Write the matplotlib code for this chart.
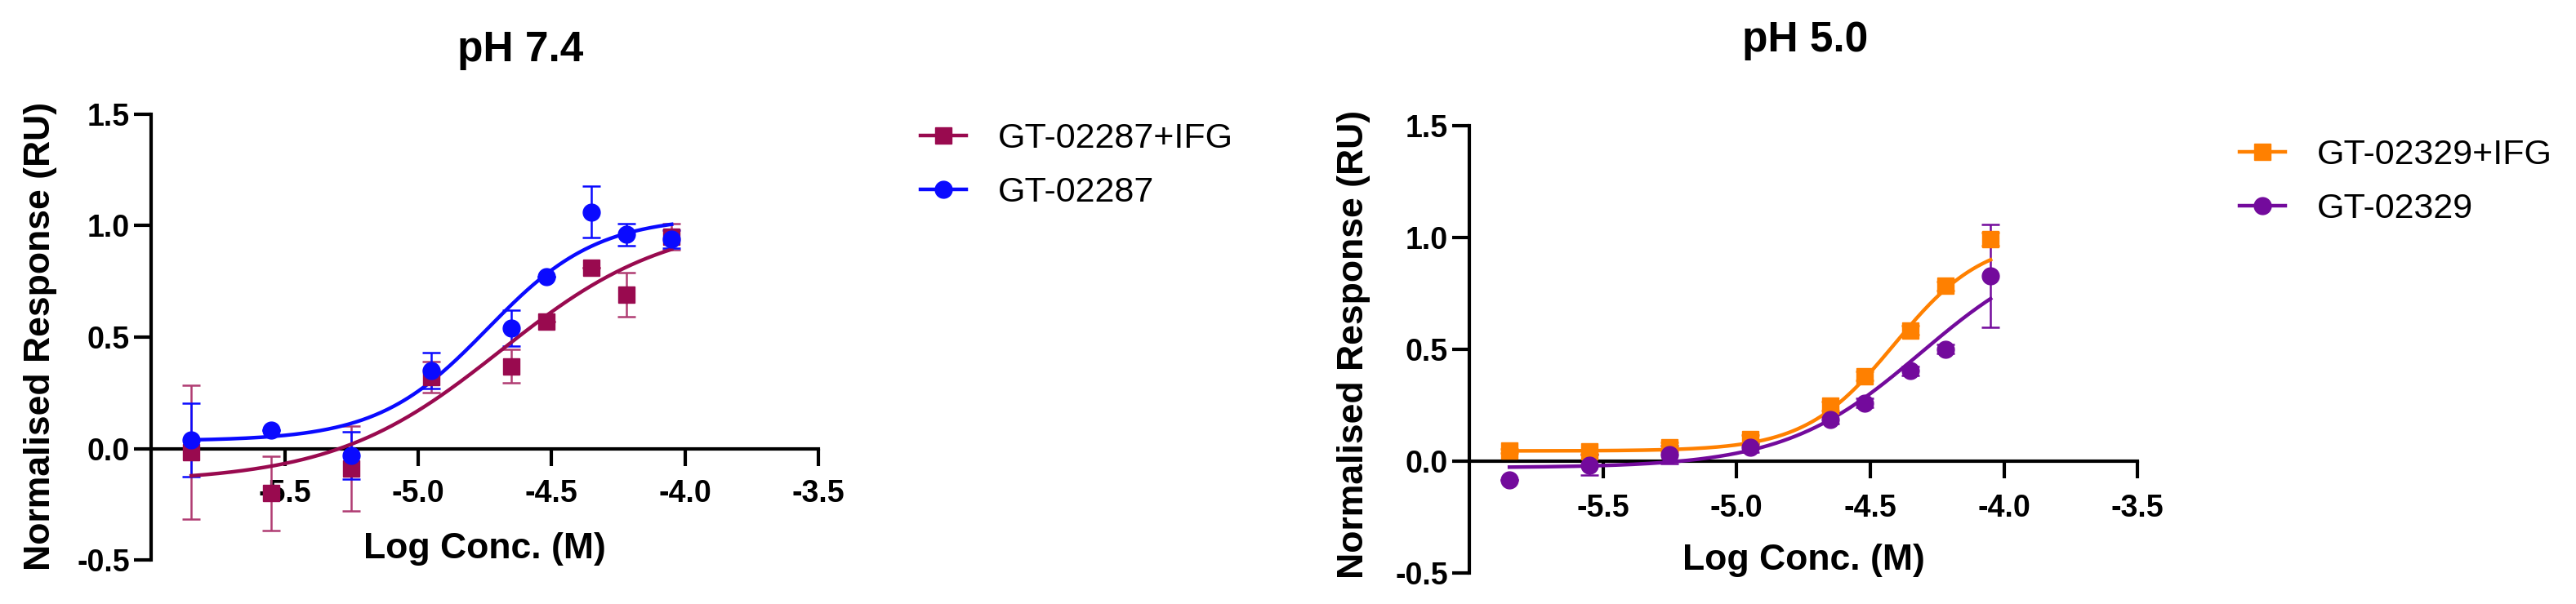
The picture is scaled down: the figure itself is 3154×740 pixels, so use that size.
import numpy as np
import matplotlib
matplotlib.use("Agg")
import matplotlib.pyplot as plt
from matplotlib.lines import Line2D

plt.rcParams['font.family'] = ['Liberation Sans', 'DejaVu Sans']
plt.rcParams['axes.unicode_minus'] = False

# log10 of the molar concentration (same dilution series on both panels)
log_conc = [-5.85, -5.55, -5.25, -4.95, -4.65, -4.52, -4.35, -4.22, -4.05]

# pH 7.4 panel
gt02287_ifg_mean = [-0.015, -0.20, -0.09, 0.32, 0.37, 0.57, 0.81, 0.69, 0.95]
gt02287_ifg_err = [0.30, 0.165, 0.19, 0.07, 0.075, 0.0, 0.0, 0.10, 0.06]
gt02287_mean = [0.04, 0.085, -0.03, 0.35, 0.54, 0.77, 1.06, 0.96, 0.94]
gt02287_err = [0.165, 0.0, 0.105, 0.08, 0.08, 0.0, 0.115, 0.05, 0.04]

# pH 5.0 panel
gt02329_ifg_mean = [0.045, 0.042, 0.063, 0.097, 0.246, 0.38, 0.585, 0.784, 0.993]
gt02329_ifg_err = [0.01, 0.01, 0.02, 0.02, 0.02, 0.02, 0.02, 0.02, 0.03]
gt02329_mean = [-0.085, -0.018, 0.027, 0.06, 0.187, 0.26, 0.403, 0.50, 0.828]
gt02329_err = [0.0, 0.045, 0.04, 0.02, 0.02, 0.02, 0.02, 0.02, 0.23]

# four parameter logistic fits: bottom, top, logEC50, hill slope
gt02287_ifg_fit = [-0.15, 1.03, -4.69, 1.38]
gt02287_fit = [0.035, 1.04, -4.74, 2.1]
gt02329_ifg_fit = [0.045, 1.0, -4.41, 2.6]
gt02329_fit = [-0.03, 1.0, -4.31, 1.7]

series_labels = [["GT-02287+IFG", "GT-02287"], ["GT-02329+IFG", "GT-02329"]]
panel_titles = ["pH 7.4", "pH 5.0"]
x_ticks = [-5.5, -5.0, -4.5, -4.0, -3.5]
x_tick_labels = ["-5.5", "-5.0", "-4.5", "-4.0", "-3.5"]
y_ticks = [-0.5, 0.0, 0.5, 1.0, 1.5]
y_tick_labels = ["-0.5", "0.0", "0.5", "1.0", "1.5"]

MAROON = "#990a4f"
MAROON_ERR = "#b03c72"
BLUE = "#0a0aff"
ORANGE = "#ff8000"
PURPLE = "#730a9c"


def four_pl(x, bottom, top, log_ec50, hill):
    return bottom + (top - bottom) / (1.0 + 10.0 ** ((log_ec50 - x) * hill))


def draw_series(ax, mean, err, fit, color, ecolor, marker):
    ax.errorbar(log_conc, mean, yerr=err, fmt="none", ecolor=ecolor,
                elinewidth=1.8, capsize=8, capthick=1.8, zorder=3)
    x_fit = np.linspace(min(log_conc), max(log_conc), 300)
    ax.plot(x_fit, four_pl(x_fit, *fit), color=color, lw=3.2, zorder=4)
    ax.plot(log_conc, mean, ls="none", marker=marker, ms=15, color=color,
            mec=color, zorder=5)


def style_axes(ax, title, title_xy, xlabel_y, ylabel_xy, tick_pad):
    ax.set_xlim(-6.0, -3.5)
    ax.set_ylim(-0.5, 1.5)
    for side in ["top", "right"]:
        ax.spines[side].set_visible(False)
    ax.spines["left"].set_linewidth(3)
    ax.spines["bottom"].set_linewidth(3)
    ax.spines["bottom"].set_position(("data", 0))
    ax.spines["left"].set_bounds(-0.5, 1.5)
    ax.spines["bottom"].set_bounds(-6.0, -3.5)

    ax.set_xticks(x_ticks)
    ax.set_xticklabels(x_tick_labels, fontsize=27, fontweight="bold")
    ax.set_yticks(y_ticks)
    ax.set_yticklabels(y_tick_labels, fontsize=27, fontweight="bold")
    ax.tick_params(axis="both", length=15, width=3, direction="out")
    ax.tick_params(axis="x", pad=tick_pad)
    ax.tick_params(axis="y", pad=4)

    ax.set_xlabel("Log Conc. (M)", fontsize=32, fontweight="bold", va="baseline")
    ax.xaxis.set_label_coords(0.5, xlabel_y)
    ax.set_ylabel("Normalised Response (RU)", fontsize=32, fontweight="bold")
    ax.yaxis.label.set_va("center")
    ax.yaxis.set_label_coords(*ylabel_xy)

    ax.text(title_xy[0], title_xy[1], title, transform=ax.transAxes,
            fontsize=37, fontweight="bold", ha="center", va="baseline")


fig = plt.figure(figsize=(31.54, 7.4), dpi=100)

ax_left = fig.add_axes([0.0587, 0.0723, 0.2590, 0.7391])
draw_series(ax_left, gt02287_ifg_mean, gt02287_ifg_err, gt02287_ifg_fit,
            MAROON, MAROON_ERR, "s")
draw_series(ax_left, gt02287_mean, gt02287_err, gt02287_fit, BLUE, BLUE, "o")
style_axes(ax_left, panel_titles[0], (0.553, 1.118), 0.005, (-0.1665, 0.502), 12)

ax_right = fig.add_axes([0.5704, 0.0519, 0.2594, 0.7396])
draw_series(ax_right, gt02329_ifg_mean, gt02329_ifg_err, gt02329_ifg_fit,
            ORANGE, ORANGE, "s")
draw_series(ax_right, gt02329_mean, gt02329_err, gt02329_fit, PURPLE, PURPLE, "o")
style_axes(ax_right, panel_titles[1], (0.502, 1.167), 0.007, (-0.1736, 0.511), 14)

# legends sit to the right of each panel
legend_specs = [
    (ax_left, [MAROON, BLUE], ["s", "o"], series_labels[0], (1127 / 3154, 1 - 150 / 740)),
    (ax_right, [ORANGE, PURPLE], ["s", "o"], series_labels[1], (2742 / 3154, 1 - 170 / 740)),
]
for ax, colors, markers, labels, anchor in legend_specs:
    handles = [Line2D([], [], color=c, marker=m, ms=15, lw=3.2) for c, m in zip(colors, markers)]
    fig.legend(handles, labels, loc="upper left", bbox_to_anchor=anchor,
               bbox_transform=fig.transFigure, frameon=False, fontsize=31,
               handlelength=1.3, handletextpad=0.9, labelspacing=0.6,
               borderpad=0, borderaxespad=0)

fig.savefig("out.png", dpi=100)
